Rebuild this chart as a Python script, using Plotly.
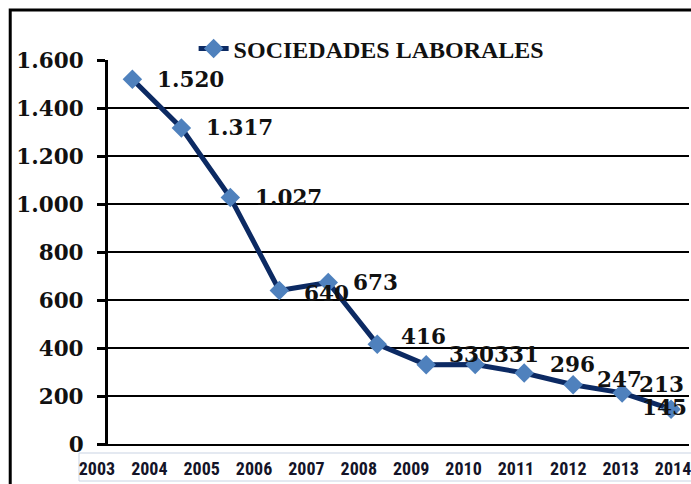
import plotly.graph_objects as go

# ---- data ----
YEARS = [2003, 2004, 2005, 2006, 2007, 2008, 2009, 2010, 2011, 2012, 2013, 2014]
VALUES = [1520, 1317, 1027, 640, 673, 416, 330, 331, 296, 247, 213, 145]
SERIES_NAME = "SOCIEDADES LABORALES"
Y_TICKS = [0, 200, 400, 600, 800, 1000, 1200, 1400, 1600]

# label offsets (pixels) for the data labels
LABEL_DX = [23, 23, 23, 23, 23, 22, 21, 17, 24, 22, 15, -31]
LABEL_DY = [0, 0, 0, -3, 0, 8, 10, 10, 8, 5, 8, 2]

W, H = 691, 484
ML, MR, MT, MB = 79, 0, 60, H - 444
PLOT_W = W - ML - MR
PLOT_H = H - MT - MB
AXIS_X = 108


def px_x(x):   # reference pixel -> paper x
    return (x - ML) / PLOT_W


def px_y(y):   # reference pixel -> paper y
    return (H - MB - y) / PLOT_H


fig = go.Figure()
fig.add_trace(go.Scatter(
    x=[str(y) for y in YEARS], y=VALUES, name=SERIES_NAME, mode="lines+markers",
    line=dict(color="#0c2a63", width=5),
    marker=dict(symbol="diamond", size=15, color="#4f81bd"),
    cliponaxis=False, hoverinfo="x+y",
))
# helper (invisible) trace so the year-label axis is drawn
fig.add_trace(go.Scatter(
    x=YEARS, y=VALUES, xaxis="x2", yaxis="y2", mode="markers",
    marker=dict(opacity=0), showlegend=False, hoverinfo="skip",
))

label_font = dict(family="DejaVu Serif", size=21.5, color="#111111", weight="bold")
for i, (v, dx, dy) in enumerate(zip(VALUES, LABEL_DX, LABEL_DY)):
    fig.add_annotation(
        x=i, y=v, xref="x", yref="y", text=f"{v:,}".replace(",", "."),
        showarrow=False, xanchor="left", yanchor="middle",
        xshift=dx, yshift=dy, font=label_font,
    )

x_dom0 = (AXIS_X - ML) / PLOT_W
fig.update_layout(
    width=W, height=H,
    margin=dict(l=ML, r=MR, t=MT, b=MB, pad=0),
    paper_bgcolor="white", plot_bgcolor="rgba(0,0,0,0)",
    separators=",.",
    showlegend=True,
    legend=dict(
        x=px_x(194), y=px_y(49), xanchor="left", yanchor="middle",
        bgcolor="rgba(0,0,0,0)", borderwidth=0,
        font=dict(family="Liberation Serif", size=24, color="#111111", weight="bold"),
    ),
    xaxis=dict(
        type="category", domain=[x_dom0, 1],
        range=[-0.5, 11 + 18 / 49.18],
        showticklabels=False, ticks="", showgrid=False, zeroline=False,
        showline=True, linecolor="black", linewidth=2,
    ),
    xaxis2=dict(
        anchor="y2", domain=[0, 1],
        range=[2003 - 18 / 52.545, 2014 + 16 / 52.545],
        tickmode="array", tickvals=YEARS, ticktext=[str(y) for y in YEARS],
        showgrid=False, zeroline=False, showline=False, ticks="",
        ticklabelstandoff=12, ticklabeloverflow="allow",
        tickfont=dict(family="Liberation Sans Narrow, Roboto Condensed, Arial Narrow, sans-serif",
                      size=18, color="#141428", weight="bold"),
    ),
    yaxis2=dict(
        anchor="x2", domain=[0, 1], range=[0, 1600], visible=False,
        showgrid=False, zeroline=False,
    ),
    yaxis=dict(
        range=[0, 1600], tickmode="array", tickvals=Y_TICKS, tickformat=",d",
        showgrid=True, gridcolor="black", gridwidth=2,
        zeroline=False, showline=True, linecolor="black", linewidth=3,
        ticks="outside", ticklen=8, tickwidth=3, tickcolor="black",
        ticklabelstandoff=9,
        tickfont=dict(family="DejaVu Serif", size=21.5, color="#111111", weight="bold"),
    ),
)

# box around the year labels
fig.add_shape(type="rect", xref="paper", yref="paper",
              x0=0, x1=1.05, y0=px_y(481), y1=px_y(453),
              line=dict(color="#c9d3e3", width=1), layer="below")
# outer chart border (partly outside the picture)
fig.add_shape(type="rect", xref="paper", yref="paper",
              x0=px_x(10), x1=1.05, y0=-0.2, y1=px_y(10),
              line=dict(color="black", width=3), layer="below")

fig.write_html(
    "out.html",
    config={"displayModeBar": False},
    post_script="document.body.style.margin='0';document.body.style.overflow='hidden';",
)
